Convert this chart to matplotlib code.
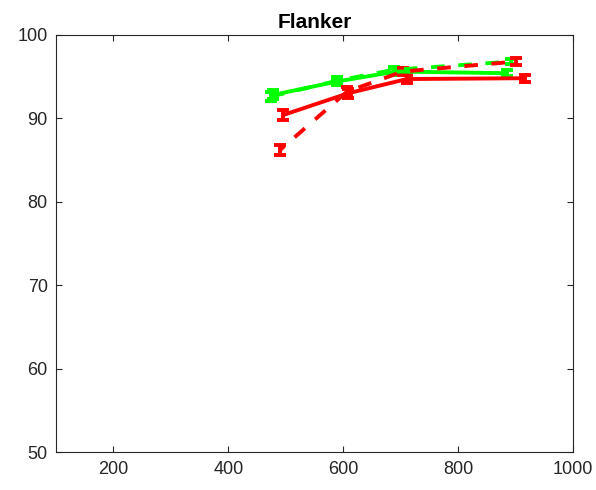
import numpy as np
import matplotlib.pyplot as plt

plt.rcParams['font.family'] = ['Liberation Sans', 'DejaVu Sans']

title = "Flanker"

# green series
green_solid_x = [478, 589, 692, 885]
green_solid_y = [92.8, 94.4, 95.6, 95.4]
green_solid_err = [0.55, 0.4, 0.4, 0.35]
green_dash_x = [474, 590, 688, 893]
green_dash_y = [92.6, 94.5, 95.8, 96.8]
green_dash_err = [0.5, 0.4, 0.35, 0.35]

# red series
red_solid_x = [496, 609, 711, 917]
red_solid_y = [90.4, 93.0, 94.7, 94.8]
red_solid_err = [0.6, 0.55, 0.45, 0.4]
red_dash_x = [490, 607, 704, 902]
red_dash_y = [86.2, 93.2, 95.6, 96.8]
red_dash_err = [0.6, 0.5, 0.45, 0.4]

xticks = [200, 400, 600, 800, 1000]
yticks = [50, 60, 70, 80, 90, 100]

fig = plt.figure(figsize=(5.96, 4.90), dpi=100)
ax = fig.add_axes([0.094, 0.077, 0.867, 0.852])

lw = 2.8
kw = dict(elinewidth=lw, capsize=4.5, capthick=lw, linewidth=lw)
ax.errorbar(green_solid_x, green_solid_y, yerr=green_solid_err, color='#00ff00', linestyle='-', **kw)
ax.errorbar(green_dash_x, green_dash_y, yerr=green_dash_err, color='#00ff00', linestyle=(0, (3.5, 3.5)), **kw)
ax.errorbar(red_solid_x, red_solid_y, yerr=red_solid_err, color='#ff0000', linestyle='-', **kw)
ax.errorbar(red_dash_x, red_dash_y, yerr=red_dash_err, color='#ff0000', linestyle=(2, (3.5, 3.5)), **kw)

ax.set_xlim(100, 1000)
ax.set_ylim(50, 100)
ax.set_xticks(xticks)
ax.set_yticks(yticks)
ax.tick_params(direction='in', top=True, right=True, length=4, width=0.8,
               colors='#262626', labelsize=13, pad=6)
for s in ax.spines.values():
    s.set_color('#262626')
    s.set_linewidth(0.8)
ax.set_title(title, fontsize=15, fontweight='bold', pad=5)

plt.savefig('out.png', dpi=100)
